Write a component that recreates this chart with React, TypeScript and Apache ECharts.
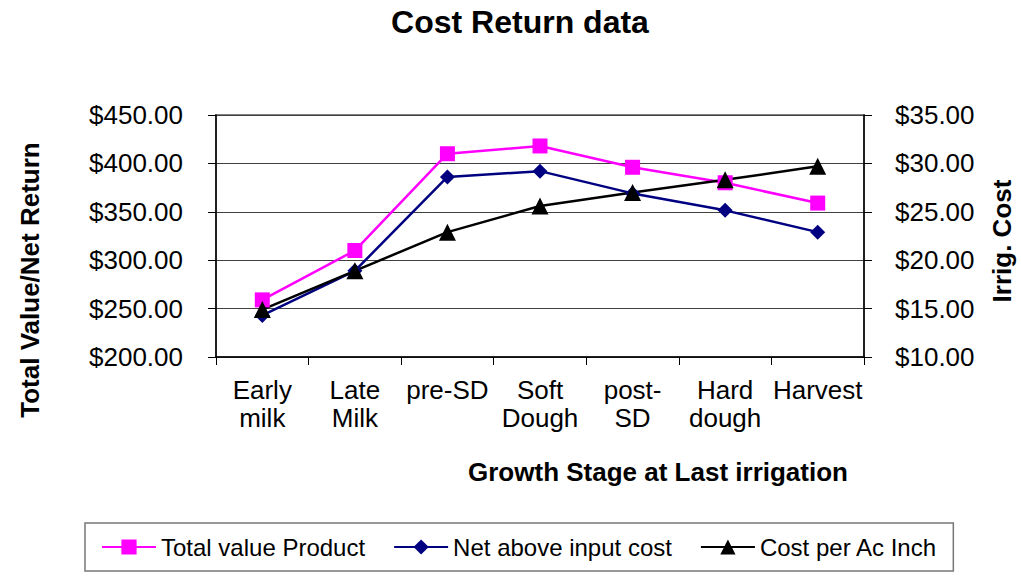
import React, { useEffect, useRef } from "react";
import * as echarts from "echarts";

const categories = ["Early\nmilk", "Late\nMilk", "pre-SD", "Soft\nDough", "post-\nSD", "Hard\ndough", "Harvest"];
const totalValueProduct = [259, 310, 410, 418, 396, 380, 359];
const netAboveInputCost = [243, 289, 386, 392, 369, 351.5, 329];
const costPerAcInch = [14.9, 18.9, 22.9, 25.6, 27.0, 28.3, 29.7];
const seriesNames = ["Total value Product", "Net above input cost", "Cost per Ac Inch"];

const FONT = "'Liberation Sans', Arial, sans-serif";

export default function App() {
  const ref = useRef<HTMLDivElement>(null);
  useEffect(() => {
    if (!ref.current) return;
    const chart = echarts.init(ref.current, null, { renderer: "svg" });
    const money = (v: number) => "$" + v.toFixed(2);
    chart.setOption({
      animation: false,
      backgroundColor: "#ffffff",
      textStyle: { fontFamily: FONT },
      title: {
        text: "Cost Return data",
        left: 520,
        textAlign: "center",
        top: 6,
        padding: 0,
        textStyle: { fontFamily: FONT, fontSize: 32, fontWeight: "bold", color: "#000" },
      },
      grid: {
        left: 216,
        right: 157,
        top: 115,
        bottom: 224,
        show: true,
        borderColor: "#808080",
        borderWidth: 2,
        containLabel: false,
      },
      legend: {
        left: 85,
        top: 523,
        padding: [12, 16, 12, 16],
        borderColor: "#777",
        borderWidth: 1.5,
        itemWidth: 54,
        itemHeight: 19,
        itemGap: 28,
        textStyle: { fontFamily: FONT, fontSize: 24, color: "#000" },
        data: seriesNames,
      },
      xAxis: {
        type: "category",
        data: categories,
        boundaryGap: true,
        axisLine: { show: true, lineStyle: { color: "#000", width: 1.5 } },
        axisTick: { show: true, length: 8, alignWithLabel: false, lineStyle: { color: "#000" } },
        axisLabel: { fontFamily: FONT, fontSize: 26, color: "#000", margin: 19, lineHeight: 28, interval: 0 },
        splitLine: { show: false },
      },
      yAxis: [
        {
          type: "value",
          min: 200,
          max: 450,
          interval: 50,
          position: "left",
          axisLine: { show: true, lineStyle: { color: "#000", width: 1.5 } },
          axisTick: { show: true, length: 8, lineStyle: { color: "#000" } },
          axisLabel: { fontFamily: FONT, fontSize: 26, color: "#000", margin: 33, formatter: money },
          splitLine: { show: true, lineStyle: { color: "#404040", width: 1 } },
        },
        {
          type: "value",
          min: 10,
          max: 35,
          interval: 5,
          position: "right",
          axisLine: { show: true, lineStyle: { color: "#000", width: 1.5 } },
          axisTick: { show: true, length: 8, lineStyle: { color: "#000" } },
          axisLabel: { fontFamily: FONT, fontSize: 26, color: "#000", margin: 31, formatter: money },
          splitLine: { show: false },
        },
      ],
      graphic: [
        {
          type: "text",
          x: 30,
          y: 280,
          rotation: Math.PI / 2,
          style: {
            text: "Total Value/Net Return",
            font: "bold 26px " + FONT,
            fill: "#000",
            textAlign: "center",
            textVerticalAlign: "middle",
          },
        },
        {
          type: "text",
          x: 1002,
          y: 241,
          rotation: Math.PI / 2,
          style: {
            text: "Irrig. Cost",
            font: "bold 26px " + FONT,
            fill: "#000",
            textAlign: "center",
            textVerticalAlign: "middle",
          },
        },
        {
          type: "text",
          x: 658,
          y: 472,
          style: {
            text: "Growth Stage at Last irrigation",
            font: "bold 26px " + FONT,
            fill: "#000",
            textAlign: "center",
            textVerticalAlign: "middle",
          },
        },
      ],
      series: [
        {
          name: seriesNames[0],
          type: "line",
          yAxisIndex: 0,
          data: totalValueProduct,
          symbol: "rect",
          symbolSize: 15,
          lineStyle: { color: "#FF00FF", width: 2.5 },
          itemStyle: { color: "#FF00FF" },
        },
        {
          name: seriesNames[1],
          type: "line",
          yAxisIndex: 0,
          data: netAboveInputCost,
          symbol: "diamond",
          symbolSize: 15,
          lineStyle: { color: "#000080", width: 2.5 },
          itemStyle: { color: "#000080" },
        },
        {
          name: seriesNames[2],
          type: "line",
          yAxisIndex: 1,
          data: costPerAcInch,
          symbol: "triangle",
          symbolSize: 17,
          lineStyle: { color: "#000000", width: 2.5 },
          itemStyle: { color: "#000000" },
        },
      ],
    });
    return () => chart.dispose();
  }, []);
  return (
    <div
      ref={ref}
      style={{ position: "fixed", left: 0, top: 0, width: 1021, height: 581, background: "#fff" }}
    />
  );
}
